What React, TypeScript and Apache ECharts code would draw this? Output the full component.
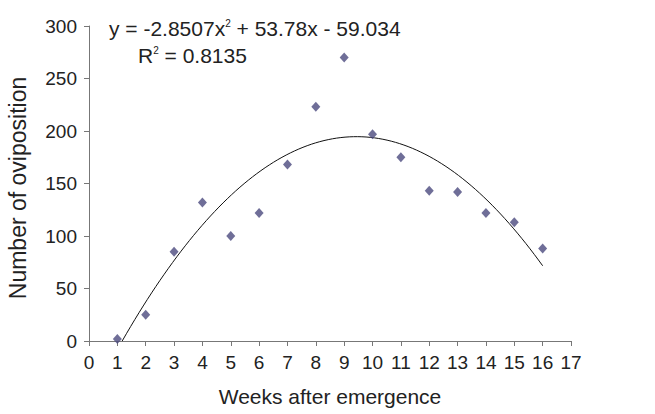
import React, { useEffect, useRef } from "react";
import * as echarts from "echarts";

const weeks = [1, 2, 3, 4, 5, 6, 7, 8, 9, 10, 11, 12, 13, 14, 15, 16];
const oviposition = [2, 25, 85, 132, 100, 122, 168, 223, 270, 197, 175, 143, 142, 122, 113, 88];
// Fitted trendline coefficients shown in chart: y = a x^2 + b x + c
const trendCoef = [-2.8507, 53.78, -59.034];
const trendRange = [1.17, 16];
const rSquared = "0.8135";

export default function App() {
  const ref = useRef<HTMLDivElement>(null);
  useEffect(() => {
    if (!ref.current) return;
    const chart = echarts.init(ref.current, null, { renderer: "svg" });
    const [a, b, c] = trendCoef;
    const trend: number[][] = [];
    for (let i = 0; i <= 100; i++) {
      const x = trendRange[0] + ((trendRange[1] - trendRange[0]) * i) / 100;
      trend.push([x, Math.max(0, a * x * x + b * x + c)]);
    }
    const font = "Liberation Sans, Arial, sans-serif";
    const rich = {
      n: { fontSize: 21, fill: "#222", fontFamily: font },
      s: { fontSize: 10, fill: "#222", fontFamily: font, verticalAlign: "top", padding: [0, 0, 11, 0] },
    };
    chart.setOption({
      animation: false,
      textStyle: { fontFamily: font },
      grid: { left: 89, right: 84, top: 26, bottom: 73 },
      xAxis: {
        type: "value",
        min: 0,
        max: 17,
        interval: 1,
        name: "Weeks after emergence",
        nameLocation: "middle",
        nameGap: 45,
        nameTextStyle: { fontSize: 21, color: "#222", fontFamily: font },
        axisLine: { lineStyle: { color: "#777", width: 1 } },
        axisTick: { show: true, length: 5, lineStyle: { color: "#777" } },
        axisLabel: { fontSize: 19, color: "#222", margin: 12, fontFamily: font },
        splitLine: { show: false },
      },
      yAxis: {
        type: "value",
        min: 0,
        max: 300,
        interval: 50,
        axisLine: { show: true, lineStyle: { color: "#777", width: 1 } },
        axisTick: { show: true, length: 5, lineStyle: { color: "#777" } },
        axisLabel: { fontSize: 19, color: "#222", margin: 12, fontFamily: font },
        splitLine: { show: false },
      },
      series: [
        {
          type: "line",
          data: trend,
          showSymbol: false,
          symbol: "none",
          lineStyle: { color: "#111", width: 1 },
          z: 1,
        },
        {
          type: "scatter",
          data: weeks.map((w, i) => [w, oviposition[i]]),
          symbol: "diamond",
          symbolSize: [9, 10],
          itemStyle: { color: "#4b4a7e" },
          z: 2,
        },
      ],
      graphic: [
        {
          type: "text",
          x: 18,
          y: 188,
          rotation: Math.PI / 2,
          style: {
            text: "Number of oviposition",
            fontSize: 23,
            fill: "#222",
            fontFamily: font,
            align: "center",
            verticalAlign: "middle",
          },
        },
        {
          type: "text",
          left: 109,
          top: 18,
          style: { text: "{n|y = -2.8507x}{s|2}{n| + 53.78x - 59.034}", rich },
        },
        {
          type: "text",
          left: 138,
          top: 45,
          style: { text: "{n|R}{s|2}{n| = " + rSquared + "}", rich },
        },
      ],
    });
    return () => chart.dispose();
  }, []);
  return <div ref={ref} style={{ position: "absolute", left: 0, top: 0, width: 655, height: 414 }} />;
}
